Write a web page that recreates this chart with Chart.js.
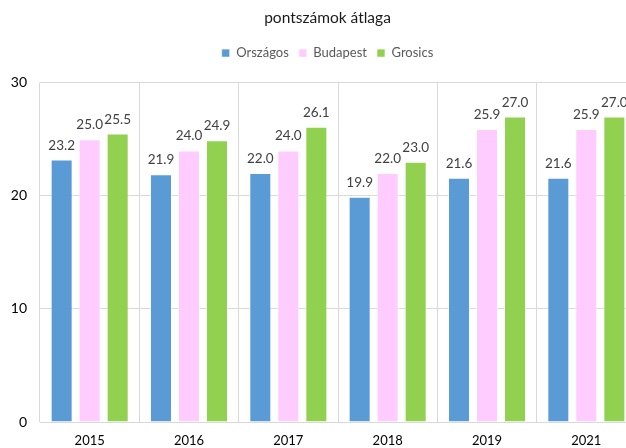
<!DOCTYPE html>
<html>
<head>
<meta charset="utf-8">
<script src="https://cdn.jsdelivr.net/npm/chart.js@4"></script>
<style>
  html, body { margin: 0; padding: 0; background: #fff; overflow: hidden; }
  #wrap { width: 655px; height: 448px; }
</style>
</head>
<body>
<div id="wrap"><canvas id="atlagChart"></canvas></div>
<script>
var years = ['2015', '2016', '2017', '2018', '2019', '2021'];
var orszagos = [23.2, 21.9, 22.0, 19.9, 21.6, 21.6];
var budapest = [25.0, 24.0, 24.0, 22.0, 25.9, 25.9];
var grosics = [25.5, 24.9, 26.1, 23.0, 27.0, 27.0];
var yTicks = [0, 10, 20, 30];

var fontFamily = 'Lato, "Open Sans", sans-serif';

// value labels above the bars
var barLabels = {
    id: 'barLabels',
    afterDatasetsDraw: function (chart) {
        var ctx = chart.ctx;
        ctx.save();
        ctx.font = '13.5px ' + fontFamily;
        ctx.fillStyle = '#404040';
        ctx.textAlign = 'center';
        ctx.textBaseline = 'alphabetic';
        chart.data.datasets.forEach(function (ds, i) {
            chart.getDatasetMeta(i).data.forEach(function (bar, j) {
                ctx.fillText(ds.data[j].toFixed(1), bar.x, bar.y - 10);
            });
        });
        ctx.restore();
    }
};

// extra room under the legend
var legendGap = {
    id: 'legendGap',
    beforeInit: function (chart) {
        var fit = chart.legend.fit;
        chart.legend.fit = function () {
            fit.bind(chart.legend)();
            this.height += 13;
        };
    }
};

function dataset(label, data, color) {
    return {
        label: label,
        data: data,
        backgroundColor: color,
        borderColor: 'rgba(255,255,255,0.6)',
        borderWidth: 1,
        categoryPercentage: 0.846,
        barPercentage: 0.786
    };
}

new Chart(document.getElementById('atlagChart'), {
    type: 'bar',
    data: {
        labels: years,
        datasets: [
            dataset('Országos', orszagos, '#5b9bd5'),
            dataset('Budapest', budapest, '#ffccff'),
            dataset('Grosics', grosics, '#92d050')
        ]
    },
    options: {
        responsive: true,
        maintainAspectRatio: false,
        animation: false,
        layout: { padding: 0 },
        plugins: {
            title: {
                display: true,
                text: 'pontszámok átlaga',
                color: '#1a1a1a',
                font: { family: fontFamily, size: 15.5, weight: 'normal' },
                padding: { top: 9, bottom: 9 }
            },
            legend: {
                display: true,
                labels: {
                    color: '#595959',
                    font: { family: fontFamily, size: 13 },
                    boxWidth: 8,
                    boxHeight: 8,
                    padding: 10
                }
            },
            tooltip: { enabled: false }
        },
        scales: {
            x: {
                grid: { color: '#d9d9d9', offset: true, drawTicks: false },
                border: { color: '#d9d9d9' },
                ticks: {
                    color: '#000',
                    font: { family: fontFamily, size: 13 },
                    padding: 11
                },
                afterFit: function (scale) { scale.height = 26; }
            },
            y: {
                min: 0,
                max: 30,
                afterBuildTicks: function (scale) {
                    scale.ticks = yTicks.map(function (v) { return { value: v }; });
                },
                grid: { color: '#d9d9d9', drawTicks: false },
                border: { display: false },
                ticks: {
                    color: '#000',
                    font: { family: fontFamily, size: 14 },
                    padding: 13
                },
                afterFit: function (scale) { scale.width = 40; }
            },
            // empty axis on the right, only reserves space so the plot ends at x=636
            yRight: {
                type: 'linear',
                position: 'right',
                display: true,
                grid: { drawOnChartArea: false, drawTicks: false },
                border: { display: false },
                ticks: { display: false },
                afterFit: function (scale) { scale.width = 19; }
            }
        }
    },
    plugins: [barLabels, legendGap]
});
</script>
</body>
</html>
